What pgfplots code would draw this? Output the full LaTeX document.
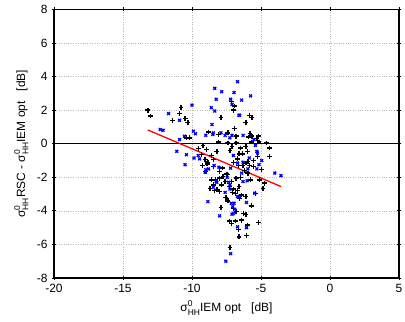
\documentclass[border=0pt]{standalone}
\usepackage{fontspec}
\setmainfont{Liberation Sans}
\usepackage{pgfplots}
\pgfplotsset{compat=1.18}
\newcommand\sig{σ\rlap{\raisebox{0.8ex}{\fontsize{8.5}{9}\selectfont 0}}\raisebox{-0.5ex}{\fontsize{8.5}{9}\selectfont HH}}
\begin{document}
\begin{tikzpicture}
\begin{axis}[
  scale only axis, width=345bp, height=268.5bp,
  xmin=-20, xmax=5, ymin=-8, ymax=8,
  xtick={-20,-15,...,5}, ytick={-8,-6,...,8},
  font=\fontsize{12}{14}\selectfont,
  /pgf/number format/assume math mode=true,
  grid=major, grid style={dotted, gray!55, line width=0.7bp},
  axis line style={line width=1.3bp, black},
  tick align=center, major tick length=4bp, tick style={black, line width=0.8bp},
  xticklabel style={yshift=-1bp},
  yticklabel style={xshift=-1bp},
  xlabel={\sig IEM opt\ \ \ [dB]},
  ylabel={\sig RSC - \sig IEM opt\ \ \ [dB]},
  xlabel style={at={(axis description cs:0.5,-0.112)}, anchor=center},
  ylabel style={at={(axis description cs:-0.095,0.5)}, anchor=center, rotate=0},
  clip=false,
]
\addplot[black, line width=1.3bp, forget plot] coordinates {(-20,0) (5,0)};
\addplot[only marks, mark=+, black, mark size=2.4bp, line width=1.4bp] coordinates {
(-13.2,2.0) (-13.0,1.65) (-10.8,2.15) (-10.9,1.8) (-11.4,1.4) (-10.5,1.5) (-10.3,1.25)
(-10.4,0.35) (-10.2,0.35) (-9.2,-0.1) (-9.55,-0.3) (-8.95,-0.35) (-8.8,0.7) (-8.1,0.1)
(-7.9,1.55) (-8.2,-0.45) (-9.3,-0.65) (-9.05,-0.95) (-8.85,-1.1) (-9.25,-1.3) (-8.45,-1.35)
(-9.0,-1.65) (-8.0,-1.65) (-7.8,-1.45) (-7.5,-1.8) (-7.15,2.5) (-7.0,2.0) (-6.9,2.25)
(-6.9,0.9) (-6.8,0.05) (-7.1,-0.15) (-7.4,0.05) (-7.25,-0.4) (-6.6,-0.6) (-6.7,-0.9)
(-7.0,-1.1) (-6.65,-1.3) (-6.3,-1.3) (-6.1,-1.15) (-6.1,1.25) (-5.9,0.4) (-5.8,0.6)
(-5.65,0.45) (-5.85,1.7) (-5.65,1.55) (-6.1,-0.15) (-6.0,-0.45) (-5.7,0.1) (-5.3,0.3)
(-5.2,0.45) (-5.15,0.1) (-5.25,-0.75) (-5.55,-1.0) (-5.85,-1.3) (-5.55,-1.35) (-4.95,-1.55)
(-4.6,0.05) (-4.4,-0.25) (-4.4,-0.75) (-5.1,-2.15) (-4.75,-2.35) (-4.85,-2.65) (-5.4,-2.95)
(-5.7,-3.7) (-6.1,-3.15) (-5.2,-4.7) (-6.0,-4.85) (-6.05,-5.45) (-6.25,-4.15) (-6.1,-4.2)
(-6.4,-4.55) (-6.65,-5.1) (-6.6,-5.55) (-6.85,-4.6) (-7.15,-4.75) (-7.3,-4.6) (-7.25,-6.2)
(-7.0,-3.85) (-6.8,-4.05) (-6.85,-2.95) (-7.05,-2.9) (-6.7,-2.8) (-6.6,-2.55) (-6.4,-3.05)
(-6.55,-3.25) (-7.0,-2.7) (-7.4,-3.4) (-7.55,-3.2) (-7.3,-2.55) (-7.15,-2.25) (-7.6,-2.25)
(-7.85,-2.45) (-7.9,-3.8) (-8.0,-2.85) (-8.2,-2.75) (-8.3,-2.15) (-8.6,-2.15) (-8.45,-2.45)
(-8.7,-2.65) (-8.35,-2.8) (-8.0,-2.05) (-7.75,-1.95) (-7.45,-1.85) (-6.8,-2.05) (-6.5,-2.0)
(-6.2,-1.6) (-5.95,-1.75) (-5.75,-2.15) (-5.95,-1.05) (-6.35,-0.6) (-6.5,-0.25) (-6.8,0.45)
(-7.4,0.65) (-8.1,0.55) (-8.45,-0.95) (-8.6,-0.7) (-8.9,-1.2)
};
\addplot[only marks, mark=x, blue, mark size=2.0bp, line width=1.3bp] coordinates {
(-11.7,1.8) (-12.3,0.85) (-12.1,0.8) (-10.9,1.4) (-10.9,0.25) (-10.0,2.3) (-10.55,0.45)
(-9.9,0.75) (-9.75,0.6) (-11.1,-0.45) (-10.4,-0.65) (-10.5,-1.25) (-9.85,-0.85) (-9.55,-0.7)
(-8.35,3.3) (-7.85,3.1) (-8.25,2.65) (-8.6,2.15) (-8.35,1.95) (-8.55,1.15) (-8.5,0.55)
(-9.0,0.5) (-8.45,0.65) (-7.9,0.65) (-7.6,0.5) (-6.7,3.7) (-6.95,3.05) (-7.2,2.65)
(-6.4,2.6) (-5.75,2.85) (-7.1,2.35) (-6.6,1.7) (-6.55,1.7) (-7.1,0.5) (-7.25,0.35)
(-6.3,0.5) (-5.5,0.25) (-5.4,-0.1) (-5.3,-0.45) (-5.25,-0.55) (-5.15,-1.25) (-5.3,-1.5)
(-4.0,-1.75) (-3.55,-1.9) (-5.85,-0.85) (-6.3,-1.1) (-5.95,-1.5) (-6.4,-1.75) (-7.0,-0.7)
(-6.7,-1.15) (-7.2,-1.45) (-8.05,-1.4) (-8.4,-1.3) (-9.0,-1.55) (-9.05,-1.7) (-8.8,-1.5)
(-9.45,-0.9) (-8.2,-2.3) (-8.25,-2.25) (-8.45,-2.6) (-8.85,-3.45) (-8.0,-4.3) (-7.45,-2.0)
(-7.35,-2.3) (-7.25,-2.45) (-7.6,-2.9) (-7.25,-2.7) (-7.15,-3.55) (-7.05,-3.75) (-6.95,-3.55)
(-6.9,-3.9) (-7.1,-4.2) (-7.0,-4.15) (-6.7,-3.15) (-6.3,-2.25) (-6.0,-2.2) (-6.55,-3.15)
(-6.05,-3.5) (-5.45,-2.95) (-6.7,-4.95) (-6.05,-5.0) (-7.2,-6.55) (-7.55,-7.0) (-4.95,-1.0)
};
\addplot[red, line width=1.3bp] coordinates {(-13.2,0.82) (-3.55,-2.55)};
\end{axis}
\pgfresetboundingbox
\useasboundingbox (-54bp,-44bp) rectangle (351bp,278bp);
\end{tikzpicture}
\end{document}
